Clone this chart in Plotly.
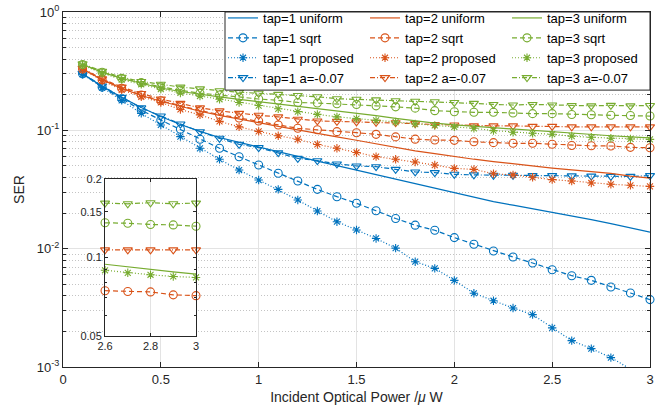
import math
import plotly.graph_objects as go

# Incident optical power (uW)
power = [0.1, 0.2, 0.3, 0.4, 0.5, 0.6, 0.7, 0.8, 0.9, 1.0,
         1.1, 1.2, 1.3, 1.4, 1.5, 1.6, 1.7, 1.8, 1.9, 2.0,
         2.1, 2.2, 2.3, 2.4, 2.5, 2.6, 2.7, 2.8, 2.9, 3.0]

# ---- tap = 1 ----
tap1_uniform = [0.300, 0.236, 0.190, 0.156, 0.131, 0.112, 0.098, 0.087, 0.079, 0.0725,
                0.066, 0.0603, 0.055, 0.0504, 0.046, 0.0422, 0.0387, 0.0354, 0.0322, 0.0294,
                0.0270, 0.0250, 0.0233, 0.0218, 0.0203, 0.0189, 0.0176, 0.0163, 0.0150, 0.0138]
tap1_sqrt = [0.300, 0.232, 0.185, 0.148, 0.122, 0.102, 0.084, 0.0705, 0.0598, 0.051,
             0.0434, 0.0373, 0.0317, 0.0275, 0.0242, 0.0209, 0.018, 0.0158, 0.0143, 0.0124,
             0.0109, 0.00955, 0.0085, 0.00756, 0.00664, 0.00591, 0.0054, 0.00474, 0.00422, 0.00371]
tap1_proposed = [0.298, 0.229, 0.179, 0.139, 0.111, 0.0884, 0.0705, 0.0569, 0.0462, 0.038,
                 0.0317, 0.0258, 0.0208, 0.0169, 0.0144, 0.0122, 0.0101, 0.00776, 0.00682, 0.0054,
                 0.0042, 0.00363, 0.00315, 0.00277, 0.00214, 0.00167, 0.00143, 0.0012, 0.00096, 0.00078]
tap1_a007 = [0.303, 0.237, 0.190, 0.155, 0.132, 0.113, 0.0974, 0.0856, 0.0762, 0.0715,
             0.0647, 0.058, 0.0554, 0.052, 0.050, 0.0493, 0.0468, 0.0445, 0.0439, 0.0425,
             0.042, 0.0417, 0.0417, 0.0414, 0.0414, 0.0412, 0.041, 0.0408, 0.0408, 0.0414]

# ---- tap = 2 ----
tap2_uniform = [0.330, 0.268, 0.226, 0.197, 0.176, 0.159, 0.145, 0.134, 0.124, 0.116,
                0.108, 0.1005, 0.094, 0.088, 0.0825, 0.077, 0.0715, 0.067, 0.0635, 0.060,
                0.057, 0.0545, 0.052, 0.050, 0.048, 0.0463, 0.0447, 0.0432, 0.041, 0.0395]
tap2_sqrt = [0.330, 0.268, 0.227, 0.199, 0.178, 0.161, 0.147, 0.136, 0.127, 0.120,
             0.111, 0.104, 0.101, 0.0975, 0.0955, 0.0925, 0.088, 0.0842, 0.0828, 0.0823,
             0.080, 0.0787, 0.0777, 0.0777, 0.0762, 0.0745, 0.074, 0.0737, 0.0718, 0.0713]
tap2_proposed = [0.328, 0.264, 0.220, 0.192, 0.172, 0.150, 0.135, 0.119, 0.107, 0.098,
                 0.090, 0.084, 0.076, 0.0705, 0.065, 0.060, 0.0569, 0.054, 0.0509, 0.0477,
                 0.0468, 0.043, 0.042, 0.0401, 0.0383, 0.0373, 0.0359, 0.035, 0.0343, 0.0336]
tap2_a007 = [0.335, 0.272, 0.232, 0.205, 0.184, 0.169, 0.155, 0.146, 0.139, 0.134,
             0.130, 0.124, 0.120, 0.119, 0.118, 0.117, 0.116, 0.114, 0.112, 0.111,
             0.109, 0.109, 0.109, 0.108, 0.108, 0.107, 0.107, 0.107, 0.107, 0.107]

# ---- tap = 3 ----
tap3_uniform = [0.360, 0.310, 0.274, 0.251, 0.228, 0.213, 0.201, 0.192, 0.183, 0.175,
                0.168, 0.161, 0.154, 0.147, 0.140, 0.133, 0.126, 0.120, 0.115, 0.111,
                0.108, 0.105, 0.102, 0.099, 0.097, 0.0942, 0.092, 0.090, 0.088, 0.0863]
tap3_sqrt = [0.360, 0.310, 0.275, 0.253, 0.233, 0.218, 0.206, 0.199, 0.191, 0.184,
             0.1795, 0.172, 0.170, 0.1675, 0.1655, 0.161, 0.158, 0.154, 0.1466, 0.1437,
             0.142, 0.142, 0.140, 0.1384, 0.1384, 0.136, 0.1355, 0.134, 0.1335, 0.132]
tap3_proposed = [0.355, 0.305, 0.268, 0.245, 0.223, 0.207, 0.195, 0.183, 0.172, 0.162,
                 0.152, 0.144, 0.1365, 0.130, 0.1255, 0.1215, 0.1175, 0.113, 0.110, 0.107,
                 0.104, 0.0995, 0.0963, 0.0944, 0.0927, 0.0893, 0.0873, 0.0858, 0.0845, 0.0838]
tap3_a007 = [0.365, 0.316, 0.281, 0.259, 0.245, 0.232, 0.224, 0.216, 0.210, 0.2056,
             0.2015, 0.197, 0.192, 0.185, 0.183, 0.181, 0.178, 0.176, 0.1745, 0.172,
             0.169, 0.1655, 0.1637, 0.1655, 0.1637, 0.162, 0.161, 0.1625, 0.161, 0.162]

schemes = ["uniform", "sqrt", "proposed", "a=-0.07"]
series = {
    1: [tap1_uniform, tap1_sqrt, tap1_proposed, tap1_a007],
    2: [tap2_uniform, tap2_sqrt, tap2_proposed, tap2_a007],
    3: [tap3_uniform, tap3_sqrt, tap3_proposed, tap3_a007],
}

y_ticks = [0.001, 0.01, 0.1, 1]
y_ticktext = ["10<sup>-3</sup>", "10<sup>-2</sup>", "10<sup>-1</sup>", "10<sup>0</sup>"]
x_ticks = [0, 0.5, 1, 1.5, 2, 2.5, 3]
inset_xticks = [2.6, 2.8, 3]
inset_yticks = [0.05, 0.1, 0.15, 0.2]

colors = {1: "#0072BD", 2: "#D95319", 3: "#77AC30"}
dashes = {"uniform": "solid", "sqrt": "5px,3px", "proposed": "1px,2px",
          "a=-0.07": "5px,2px,1px,2px"}
symbols = {"uniform": None, "sqrt": "circle-open", "proposed": "asterisk-open",
           "a=-0.07": "triangle-down-open"}
msize = {"sqrt": 8, "proposed": 7, "a=-0.07": 8}
legend_ids = {1: "legend", 2: "legend2", 3: "legend3"}

AX = "#262626"
FONT = "Liberation Sans, Arial, Helvetica, sans-serif"
DOTS = "1px,2px"

fig = go.Figure()


def trace_style(tap, scheme):
    kw = dict(line=dict(color=colors[tap], width=1.2, dash=dashes[scheme]))
    if symbols[scheme] is None:
        kw["mode"] = "lines"
    else:
        kw["mode"] = "lines+markers"
        kw["marker"] = dict(symbol=symbols[scheme], size=msize[scheme],
                            color=colors[tap], line=dict(color=colors[tap], width=1.1))
    return kw


# main axes
for tap in (1, 2, 3):
    for scheme, vals in zip(schemes, series[tap]):
        fig.add_trace(go.Scatter(
            x=power, y=vals, name=f"tap={tap} {scheme}",
            legend=legend_ids[tap],
            # markers are left unclipped unless the curve leaves the axis range
            cliponaxis=not (min(vals) >= 1e-3),
            **trace_style(tap, scheme)))

# zoomed inset over 2.6 - 3.0
lo, hi = inset_yticks[0], inset_yticks[-1]
for tap in (1, 2, 3):
    for scheme, vals in zip(schemes, series[tap]):
        pts = [(p, v) for p, v in zip(power, vals) if p >= 2.6 - 1e-9]
        if not all(lo <= v <= hi for _, v in pts):
            continue
        fig.add_trace(go.Scatter(
            x=[p for p, _ in pts], y=[v for _, v in pts],
            xaxis="x2", yaxis="y2", showlegend=False, cliponaxis=False,
            **trace_style(tap, scheme)))

minor_vals = [k * 10 ** d for d in (-3, -2, -1) for k in range(2, 10)]
inset_minor = [0.06, 0.07, 0.08, 0.09]

legend_common = dict(y=1.0254, xanchor="left", yanchor="top", bgcolor="rgba(0,0,0,0)",
                     borderwidth=0, font=dict(family=FONT, size=13, color="#000000"),
                     itemwidth=30, tracegroupgap=0)

fig.update_layout(
    width=671, height=411,
    margin=dict(l=63, r=21, t=12, b=44, pad=0, autoexpand=False),
    paper_bgcolor="white", plot_bgcolor="white",
    font=dict(family=FONT, color=AX),
    legend=dict(x=0.2726, **legend_common),
    legend2=dict(x=0.5145, **legend_common),
    legend3=dict(x=0.7564, **legend_common),
    xaxis=dict(
        range=[0, 3], tickvals=x_ticks, ticktext=[f"{v:g}" for v in x_ticks],
        automargin=False,
        showline=True, linecolor=AX, linewidth=1, mirror="ticks",
        ticks="inside", ticklen=5, tickcolor=AX,
        showgrid=True, gridcolor="#e3e3e3", zeroline=False,
        tickfont=dict(size=13, color=AX),
        title=dict(text="Incident Optical Power /<i>μ</i> W", font=dict(size=14, color=AX),
                   standoff=6),
    ),
    yaxis=dict(
        type="log", range=[-3, 0], tickvals=y_ticks, ticktext=y_ticktext,
        automargin=False,
        showline=True, linecolor=AX, linewidth=1, mirror="ticks",
        ticks="inside", ticklen=5, tickcolor=AX,
        showgrid=True, gridcolor="#e3e3e3", zeroline=False,
        tickfont=dict(size=13, color=AX),
        minor=dict(tickvals=minor_vals, ticks="inside", ticklen=3, tickcolor=AX,
                   showgrid=True, gridcolor="#c4c4c4", griddash=DOTS),
        title=dict(text="SER", font=dict(size=14, color=AX), standoff=8),
    ),
    xaxis2=dict(
        domain=[0.0716, 0.2266], anchor="y2", range=[2.6, 3],
        tickvals=inset_xticks, ticktext=[f"{v:g}" for v in inset_xticks],
        automargin=False,
        showline=True, linecolor=AX, linewidth=1, mirror="ticks",
        ticks="inside", ticklen=3, tickcolor=AX,
        showgrid=True, gridcolor="#e3e3e3", zeroline=False,
        tickfont=dict(size=11, color=AX),
    ),
    yaxis2=dict(
        domain=[0.0882, 0.5287], anchor="x2", type="log",
        range=[math.log10(lo), math.log10(hi)],
        tickvals=inset_yticks, ticktext=[f"{v:g}" for v in inset_yticks],
        automargin=False,
        showline=True, linecolor=AX, linewidth=1, mirror="ticks",
        ticks="inside", ticklen=3, tickcolor=AX,
        showgrid=False, zeroline=False,
        tickfont=dict(size=11, color=AX),
        minor=dict(tickvals=inset_minor, ticks="inside", ticklen=2, tickcolor=AX,
                   showgrid=False),
    ),
    shapes=[dict(type="rect", xref="paper", yref="paper",
                 x0=0.276, x1=1.0, y0=0.780, y1=1.0,
                 line=dict(color=AX, width=1), fillcolor="white", layer="above")],
)

fig.write_html("out.html")
